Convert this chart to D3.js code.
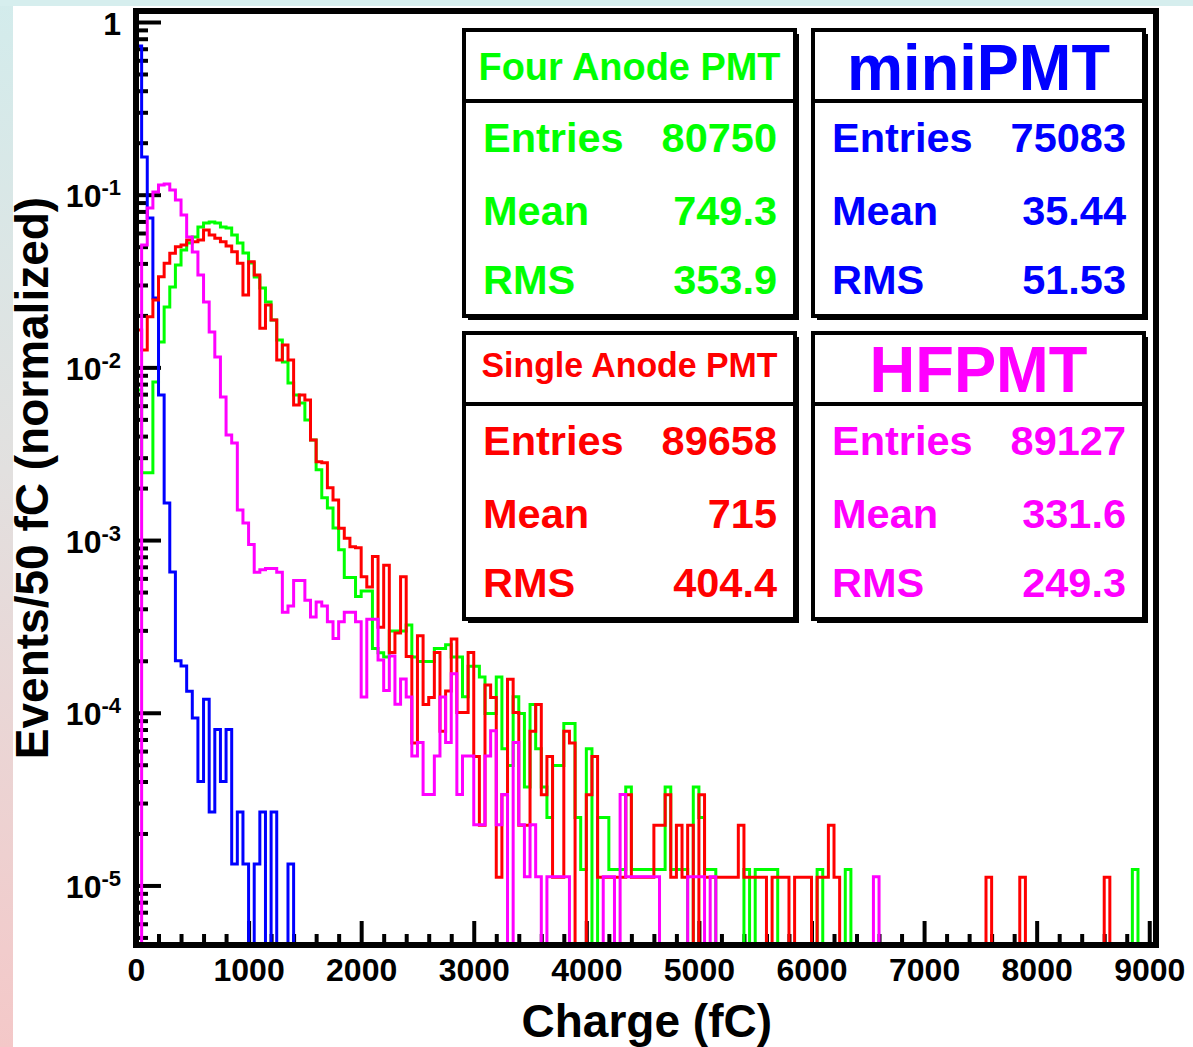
<!DOCTYPE html>
<html>
<head>
<meta charset="utf-8">
<script src="https://cdn.jsdelivr.net/npm/d3@7/dist/d3.min.js"></script>
<style>
    html, body { margin: 0; padding: 0; background: #fff; }
    body { width: 1193px; height: 1047px; overflow: hidden; }
    svg text { font-family: "Liberation Sans", Arial, Helvetica, sans-serif; font-weight: bold; }
</style>
</head>
<body>
<svg id="chart" width="1193" height="1047"></svg>
<script>
// Bin contents (events per 50 fC bin). Bin i covers [50*i, 50*i + 50) fC.
// Bins past the end of each list are empty.
const fourAnodeCounts = [
    598, 198, 198, 665, 1133, 1806, 2358, 3163, 3865, 4244,
    4595, 5253, 5540, 5612, 5540, 5253, 5180, 4720, 4244, 3715,
    3251, 2698, 2330, 1933, 1520, 1165, 869, 656, 559, 502,
    401, 307, 206, 142, 124, 95, 71, 49, 49, 38,
    41, 41, 19, 18, 17, 24, 24, 24, 26, 17,
    16, 16, 16, 19, 19, 20, 17, 17, 10, 15,
    15, 13, 8, 8, 13, 5, 4, 10, 8, 3,
    9, 5, 3, 2, 4, 4, 7, 7, 2, 1,
    5, 0, 2, 2, 1, 1, 1, 3, 1, 1,
    1, 1, 1, 1, 3, 1, 1, 1, 0, 3,
    2, 1, 1, 0, 0, 0, 0, 0, 1, 0,
    1, 1, 1, 1, 0, 0, 0, 0, 0, 0,
    0, 1, 0, 0, 0, 0, 1, 0, 0, 0,
    0, 0, 0, 0, 0, 0, 0, 0, 0, 0,
    0, 0, 0, 0, 0, 0, 0, 0, 0, 0,
    0, 0, 0, 0, 0, 0, 0, 0, 0, 0,
    0, 0, 0, 0, 0, 0, 0, 0, 0, 0,
    0, 0, 0, 0, 0, 0, 0, 1
];

const miniPmtCounts = [
    54500, 12415, 5503, 1893, 520, 123, 49, 15, 14, 10,
    7, 3, 9, 2, 6, 3, 6, 1, 2, 1,
    0, 1, 2, 0, 2, 0, 0, 1
];

const singleAnodeCounts = [
    1476, 1130, 1762, 2203, 3006, 3591, 4104, 4481, 4583, 4898,
    4788, 4898, 5598, 5237, 5010, 4788, 4528, 4188, 3591, 2354,
    3670, 3074, 1510, 2060, 1688, 989, 1208, 989, 543, 621,
    581, 340, 255, 251, 180, 153, 105, 92, 82, 81,
    55, 48, 72, 28, 64, 20, 26, 55, 19, 6,
    25, 10, 11, 20, 7, 12, 24, 9, 9, 20,
    5, 2, 13, 11, 1, 3, 14, 9, 2, 2,
    7, 10, 3, 5, 1, 1, 7, 6, 0, 0,
    3, 5, 1, 1, 1, 1, 1, 3, 1, 1,
    1, 1, 2, 2, 3, 1, 2, 1, 2, 0,
    3, 1, 1, 1, 1, 1, 1, 2, 1, 1,
    1, 1, 0, 1, 1, 1, 0, 1, 1, 1,
    0, 1, 1, 2, 1, 0, 0, 0, 0, 0,
    0, 0, 0, 0, 0, 0, 0, 0, 0, 0,
    0, 0, 0, 0, 0, 0, 0, 0, 0, 0,
    0, 1, 0, 0, 0, 0, 0, 1, 0, 0,
    0, 0, 0, 0, 0, 0, 0, 0, 0, 0,
    0, 0, 1
];

const hfPmtCounts = [
    0, 4560, 7470, 9240, 10140, 10280, 9490, 8300, 6790, 5070,
    4150, 3050, 2130, 1430, 1024, 601, 362, 325, 133, 112,
    84, 58, 60, 61, 61, 58, 34, 37, 52, 52,
    40, 32, 39, 37, 30, 24, 30, 34, 34, 30,
    11, 31, 31, 18, 12, 19, 10, 14, 11, 5,
    6, 3, 3, 5, 11, 6, 15, 3, 5, 5,
    2, 2, 5, 7, 2, 3, 0, 6, 2, 1,
    2, 1, 0, 1, 1, 1, 1, 0, 0, 0,
    0, 0, 0, 1, 1, 0, 3, 1, 1, 1,
    1, 1, 1, 0, 0, 0, 0, 0, 1, 1,
    1, 0, 1, 0, 0, 0, 0, 0, 0, 0,
    0, 0, 0, 0, 0, 0, 0, 0, 0, 0,
    0, 0, 0, 0, 0, 0, 0, 0, 0, 0,
    0, 1
];

// Stats box contents, in drawing order
const seriesNames = ['Four Anode PMT', 'miniPMT', 'Single Anode PMT', 'HFPMT'];
const seriesCounts = [fourAnodeCounts, miniPmtCounts, singleAnodeCounts, hfPmtCounts];
const seriesColors = ['#00ff00', '#0000ff', '#ff0000', '#ff00ff'];
const entries = [80750, 75083, 89658, 89127];
const means = ['749.3', '35.44', '715', '331.6'];
const rmsValues = ['353.9', '51.53', '404.4', '249.3'];
const statLabels = ['Entries', 'Mean', 'RMS'];

// Axes
const binWidth = 50;
const xTickValues = [0, 1000, 2000, 3000, 4000, 5000, 6000, 7000, 8000, 9000];
const yTickValues = [1e-5, 1e-4, 1e-3, 1e-2, 1e-1, 1];
const xRange = [0, 9060];
const yRange = [4.52e-6, 1.158];
const xTitle = 'Charge (fC)';
const yTitle = 'Events/50 fC (normalized)';

const ChargePlot = {
    width: 1193,
    height: 1047,
    frame: { left: 136, top: 11, right: 1156, bottom: 945 },

    // stats box placement (top-left corner, title font)
    boxes: [
        { x: 464, y: 30, titleSize: 38, titleWidth: 302, titleBase: 50 },
        { x: 813, y: 30, titleSize: 65, titleWidth: 263, titleBase: 60 },
        { x: 464, y: 333, titleSize: 35, titleWidth: 296, titleBase: 44 },
        { x: 813, y: 333, titleSize: 65, titleWidth: 218, titleBase: 59 }
    ],

    render() {
        const svg = d3.select('#chart');
        const f = this.frame;

        this.x = d3.scaleLinear().domain(xRange).range([f.left, f.right]);
        this.y = d3.scaleLog().domain(yRange).range([f.bottom, f.top]);

        this.drawBackground(svg);
        this.drawAxes(svg);

        // histograms are clipped to the frame
        svg.select('defs').append('clipPath').attr('id', 'frameClip')
            .append('rect')
            .attr('x', f.left).attr('y', f.top)
            .attr('width', f.right - f.left).attr('height', f.bottom - f.top);

        const histGroup = svg.append('g').attr('clip-path', 'url(#frameClip)');
        seriesCounts.forEach((counts, i) => {
            this.drawHistogram(histGroup, counts, entries[i], seriesColors[i]);
        });

        // frame on top
        svg.append('rect')
            .attr('x', f.left).attr('y', f.top)
            .attr('width', f.right - f.left).attr('height', f.bottom - f.top)
            .attr('fill', 'none')
            .attr('stroke', '#000')
            .attr('stroke-width', 6);

        this.drawTitles(svg);
        seriesNames.forEach((name, i) => this.drawStatsBox(svg, i));
    },

    /**
     * Gradient border of the slide behind the white plot area
     */
    drawBackground(svg) {
        const defs = svg.append('defs');
        const grad = defs.append('linearGradient')
            .attr('id', 'bgGrad')
            .attr('x1', 0).attr('y1', 0).attr('x2', 0).attr('y2', 1);
        grad.append('stop').attr('offset', '0%').attr('stop-color', '#d3ecec');
        grad.append('stop').attr('offset', '45%').attr('stop-color', '#e2e0df');
        grad.append('stop').attr('offset', '100%').attr('stop-color', '#f4c8c8');

        svg.append('rect').attr('width', this.width).attr('height', this.height).attr('fill', 'url(#bgGrad)');
        svg.append('rect').attr('width', this.width).attr('height', 6).attr('fill', '#d6eeee');
        svg.append('rect')
            .attr('x', 13).attr('y', 6)
            .attr('width', this.width - 13).attr('height', this.height - 6)
            .attr('fill', '#fff');
    },

    drawAxes(svg) {
        const f = this.frame;
        const x = this.x, y = this.y;

        // x axis: major every 1000, minor every 200, ticks pointing inward
        const xMinor = d3.range(200, xRange[1], 200).filter(v => v % 1000 !== 0);
        const gxMinor = svg.append('g')
            .attr('transform', `translate(0,${f.bottom})`)
            .call(d3.axisBottom(x).tickValues(xMinor).tickSize(-11).tickFormat(''));
        const gx = svg.append('g')
            .attr('transform', `translate(0,${f.bottom})`)
            .call(d3.axisBottom(x).tickValues(xTickValues).tickSize(-24).tickPadding(13).tickFormat(d3.format('d')));
        gx.selectAll('.tick text')
            .attr('font-size', 32)
            .attr('fill', '#000');

        // y axis: decades with minor ticks at 2..9
        const yMinor = [];
        for (let e = -6; e <= 0; e++) {
            for (let k = 2; k <= 9; k++) {
                const v = k * Math.pow(10, e);
                if (v >= yRange[0] && v <= yRange[1]) yMinor.push(v);
            }
        }
        const gyMinor = svg.append('g')
            .attr('transform', `translate(${f.left},0)`)
            .call(d3.axisLeft(y).tickValues(yMinor).tickSize(-12).tickFormat(''));
        const gy = svg.append('g')
            .attr('transform', `translate(${f.left},0)`)
            .call(d3.axisLeft(y).tickValues(yTickValues).tickSize(-25).tickPadding(15).tickFormat(''));

        gy.selectAll('.tick text').each(function(d) {
            const t = d3.select(this)
                .attr('dy', null)
                .attr('y', 12)
                .attr('font-size', 32)
                .attr('fill', '#000');
            const exp = Math.round(Math.log10(d));
            if (exp === 0) {
                t.text('1');
            } else {
                t.append('tspan').text('10');
                t.append('tspan')
                    .attr('font-size', 22)
                    .attr('dy', -12)
                    .text(String(exp));
            }
        });

        [gxMinor, gx, gyMinor, gy].forEach(g => {
            g.select('.domain').remove();
            g.selectAll('.tick line').attr('stroke', '#000').attr('stroke-width', 4);
        });
    },

    /**
     * Step outline of one normalized histogram
     */
    drawHistogram(g, counts, total, color) {
        const x = this.x, y = this.y;
        const bottom = this.frame.bottom + 2;
        const level = c => (c > 0 ? y(c / total) : bottom);

        const pts = [[x(0), bottom]];
        counts.forEach((c, i) => pts.push([x(i * binWidth), level(c)]));
        pts.push([x(counts.length * binWidth), bottom]);
        pts.push([x(xRange[1]), bottom]);

        g.append('path')
            .attr('d', d3.line().curve(d3.curveStepAfter)(pts))
            .attr('fill', 'none')
            .attr('stroke', color)
            .attr('stroke-width', 3);
    },

    drawTitles(svg) {
        svg.append('text')
            .attr('x', 772)
            .attr('y', 1037)
            .attr('text-anchor', 'end')
            .attr('font-size', 46)
            .attr('fill', '#000')
            .text(xTitle);

        svg.append('text')
            .attr('transform', 'translate(48,478) rotate(-90)')
            .attr('text-anchor', 'middle')
            .attr('font-size', 46)
            .attr('fill', '#000')
            .text(yTitle);
    },

    drawStatsBox(svg, i) {
        const b = this.boxes[i];
        const w = 331, h = 286, sep = 71;
        const color = seriesColors[i];
        const g = svg.append('g').attr('transform', `translate(${b.x},${b.y})`);

        // shadow, then box
        g.append('rect').attr('x', 4).attr('y', 4).attr('width', w).attr('height', h).attr('fill', '#000');
        g.append('rect')
            .attr('width', w).attr('height', h)
            .attr('fill', '#fff')
            .attr('stroke', '#000')
            .attr('stroke-width', 4);
        g.append('line')
            .attr('x1', 0).attr('x2', w)
            .attr('y1', sep).attr('y2', sep)
            .attr('stroke', '#000')
            .attr('stroke-width', 4);

        g.append('text')
            .attr('x', w / 2)
            .attr('y', b.titleBase)
            .attr('text-anchor', 'middle')
            .attr('font-size', b.titleSize)
            .attr('textLength', b.titleWidth)
            .attr('lengthAdjust', 'spacingAndGlyphs')
            .attr('fill', color)
            .text(seriesNames[i]);

        const values = [entries[i], means[i], rmsValues[i]];
        const rows = [122, 195, 264];
        statLabels.forEach((label, r) => {
            g.append('text')
                .attr('x', 19).attr('y', rows[r])
                .attr('font-size', 41.5)
                .attr('fill', color)
                .text(label);
            g.append('text')
                .attr('x', 313).attr('y', rows[r])
                .attr('text-anchor', 'end')
                .attr('font-size', 41.5)
                .attr('fill', color)
                .text(values[r]);
        });
    }
};

ChargePlot.render();
</script>
</body>
</html>
